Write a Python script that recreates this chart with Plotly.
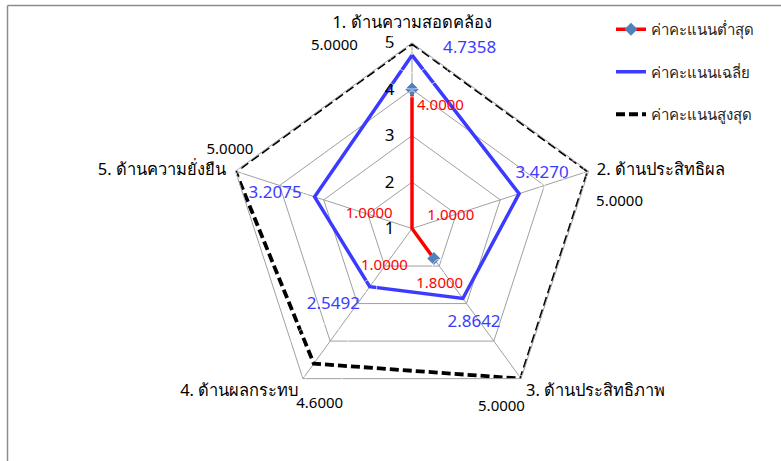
import plotly.graph_objects as go

categories = ["1. ด้านความสอดคล้อง", "2. ด้านประสิทธิผล", "3. ด้านประสิทธิภาพ",
              "4. ด้านผลกระทบ", "5. ด้านความยั่งยืน"]
min_scores = [4.0, 1.0, 1.8, 1.0, 1.0]
mean_scores = [4.7358, 3.4270, 2.8642, 2.5492, 3.2075]
max_scores = [5.0, 5.0, 5.0, 4.6, 5.0]
series_names = ["ค่าคะแนนต่ำสุด", "ค่าคะแนนเฉลี่ย", "ค่าคะแนนสูงสุด"]
radial_ticks = [1, 2, 3, 4, 5]
r_min, r_max = 1, 5

# label placement styles: offset along the spoke (data units), text position, spacer size
min_lab_dr = [-0.1, 0.88, 0.215, 1.01, 0.97]
min_lab_pos = ["bottom right", "middle center", "bottom center", "middle center", "middle center"]
min_lab_size = [6.4, 0, 14.4, 0, 0]

mean_lab_dr = [0.145, 0.52, 0.41, 0.0, 0.215]
mean_lab_pos = ["middle right", "top center", "bottom center", "bottom left", "middle left"]
mean_lab_size = [48, 5.1, 0, 14, 3.8]

max_lab_dr = [-0.08, -0.267, 0.385, -0.216, 0.125]
max_lab_pos = ["middle left", "bottom right", "bottom left", "bottom center", "top center"]
max_lab_size = [85, 29.4, 9, 64.3, 16.3]

cat_lab_pos = ["top center", "middle right", "bottom right", "bottom left", "middle left"]
cat_lab_size = [16.3, 11.7, 6.4, 5.8, 13.6]

FONT = "Tahoma, 'Noto Sans', sans-serif"
RED = "#ff0000"
BLUE = "#3b3bff"
MARK = "#4f81bd"
GRID = "#a0a0a0"


def closed(a):
    return list(a) + [a[0]]


fig = go.Figure()

fig.add_trace(go.Scatterpolar(
    r=closed(min_scores), theta=closed(categories), name=series_names[0],
    mode="lines+markers", line=dict(color=RED, width=3.5),
    marker=dict(symbol="diamond", size=10, color=MARK), legendgroup="a"))
fig.add_trace(go.Scatterpolar(
    r=closed(mean_scores), theta=closed(categories), name=series_names[1],
    mode="lines", line=dict(color=BLUE, width=3.5), legendgroup="b"))
fig.add_trace(go.Scatterpolar(
    r=closed(max_scores), theta=closed(categories), name=series_names[2],
    mode="lines", line=dict(color="black", width=3.8, dash="9px,4px"), legendgroup="c"))


def label_trace(vals, texts, dr, pos, size, color, fs):
    return go.Scatterpolar(
        r=[v + d for v, d in zip(vals, dr)], theta=categories, subplot="polar2",
        mode="markers+text", text=texts,
        textposition=pos, textfont=dict(color=color, size=fs, family=FONT),
        marker=dict(size=size, color="rgba(0,0,0,0)"),
        showlegend=False, hoverinfo="skip", cliponaxis=False)


def fmt(vals):
    return [f"{v:.4f}" for v in vals]


fig.add_trace(label_trace(min_scores, fmt(min_scores), min_lab_dr, min_lab_pos, min_lab_size, RED, 15))
fig.add_trace(label_trace(mean_scores, fmt(mean_scores), mean_lab_dr, mean_lab_pos, mean_lab_size, BLUE, 17))
fig.add_trace(label_trace(max_scores, fmt(max_scores), max_lab_dr, max_lab_pos, max_lab_size, "black", 15))
fig.add_trace(label_trace([r_max] * len(categories), categories, [0] * len(categories),
                          cat_lab_pos, cat_lab_size, "black", 16.5))

W, H = 781, 461
cx, cy, U = 412, 228.5, 46.4        # centre and pixels per unit
R1 = (r_max - r_min) * U
label_r_max = 5.8
R2 = (label_r_max - r_min) * U


def dom(R):
    return dict(x=[(cx - R) / W, (cx + R) / W], y=[1 - (cy + R) / H, 1 - (cy - R) / H])


fig.update_layout(
    width=W, height=H,
    margin=dict(l=0, r=0, t=0, b=0),
    paper_bgcolor="white", plot_bgcolor="white",
    font=dict(family=FONT, size=16, color="black"),
    polar=dict(
        domain=dom(R1),
        bgcolor="white",
        gridshape="linear",
        angularaxis=dict(rotation=90, direction="clockwise", showline=True,
                         linecolor=GRID, linewidth=1, gridcolor=GRID,
                         ticks="", showticklabels=False),
        radialaxis=dict(range=[r_min, r_max], tickvals=radial_ticks, angle=90, tickangle=90,
                        side="counterclockwise", showline=False, gridcolor=GRID,
                        ticks="outside", ticklen=11, tickcolor="rgba(0,0,0,0)",
                        tickfont=dict(size=17, color="black")),
    ),
    polar2=dict(
        domain=dom(R2),
        bgcolor="rgba(0,0,0,0)",
        gridshape="linear",
        angularaxis=dict(rotation=90, direction="clockwise", showline=False, showgrid=False,
                         ticks="", showticklabels=False),
        radialaxis=dict(range=[r_min, label_r_max], visible=False, showgrid=False),
    ),
    legend=dict(x=611 / W, y=1 - 13 / H, xanchor="left", yanchor="top",
                font=dict(size=15, color="#262626"), tracegroupgap=20,
                traceorder="grouped", bgcolor="rgba(0,0,0,0)"),
    shapes=[
        dict(type="line", xref="paper", yref="paper", x0=7.5 / W, x1=1, y0=1 - 5.5 / H, y1=1 - 5.5 / H,
             line=dict(color="#8c8c8c", width=1.5)),
        dict(type="line", xref="paper", yref="paper", x0=7.5 / W, x1=7.5 / W, y0=0, y1=1 - 5.5 / H,
             line=dict(color="#8c8c8c", width=1.5)),
    ],
)

fig.write_html("out.html", config={"displayModeBar": False},
               post_script="document.body.style.margin='0px';")
